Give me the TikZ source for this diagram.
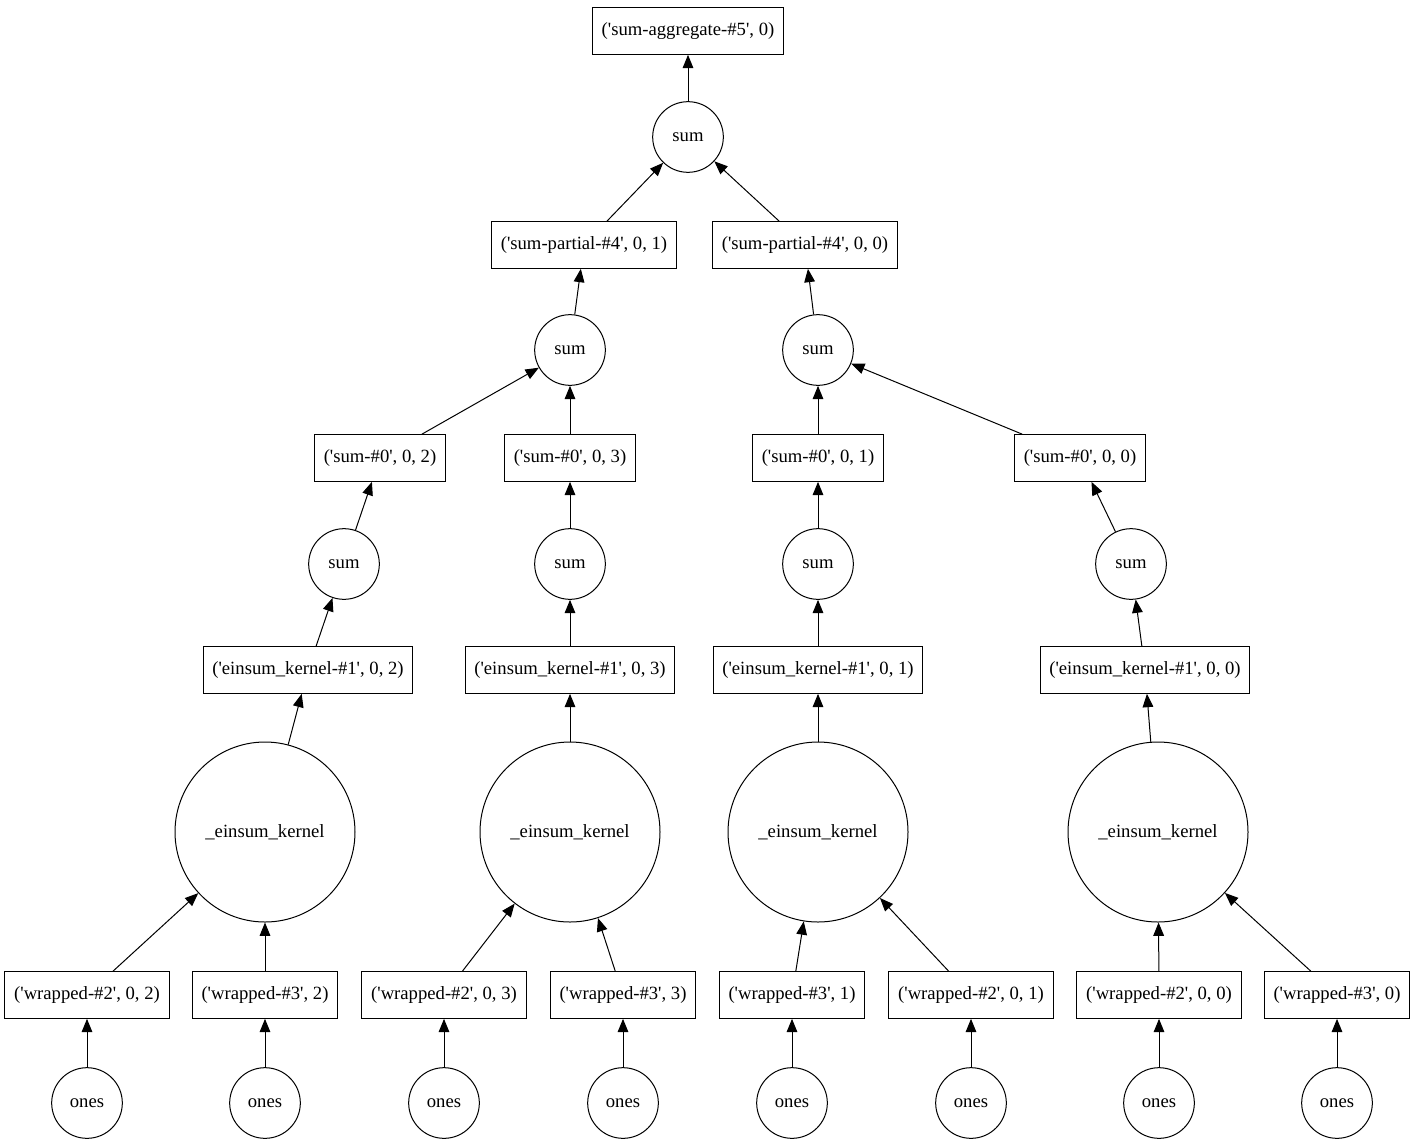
\documentclass[tikz,border=0pt]{standalone}
\usepackage{fontspec}
\setmainfont{Liberation Serif}
\usetikzlibrary{arrows.meta}

\newcommand{\q}{\textquotesingle}

\begin{document}
\begin{tikzpicture}[x=0.75pt, y=-0.75pt, line width=0.75pt,
  box/.style={draw, rectangle, minimum height=35pt, inner xsep=7pt, font=\fontsize{14}{16}\selectfont},
  op/.style={draw, circle, minimum size=53pt, inner sep=0pt, font=\fontsize{14}{16}\selectfont},
  bigop/.style={op, minimum size=135pt},
  edge/.style={-{Triangle[length=10pt, width=8pt]}}]

\useasboundingbox (0,-2) rectangle (1416,1140);

% top of the tree
\node[box] (agg) at (688,29) {(\q sum-aggregate-\#5\q, 0)};
\node[op] (s) at (688,135) {sum};
\node[box] (p1) at (584,243) {(\q sum-partial-\#4\q, 0, 1)};
\node[box] (p0) at (805,243) {(\q sum-partial-\#4\q, 0, 0)};
\node[op] (s1) at (570,348) {sum};
\node[op] (s0) at (818,348) {sum};

% one column per chunk
\foreach \c/\x/\xs/\xk/\xe in {2/380/344/308/265, 3/570/570/570/570, 1/818/818/818/818, 0/1080/1131/1145/1158} {
  \node[box] (c\c) at (\x,456) {(\q sum-\#0\q, 0, \c)};
  \node[op] (sc\c) at (\xs,562) {sum};
  \node[box] (k\c) at (\xk,668) {(\q einsum\_kernel-\#1\q, 0, \c)};
  \node[bigop] (e\c) at (\xe,830) {\_einsum\_kernel};
  \draw[edge] (sc\c) -- (c\c);
  \draw[edge] (k\c) -- (sc\c);
  \draw[edge] (e\c) -- (k\c);
}

% inputs
\foreach \n/\x/\e/\t in {a/87/2/{(\q wrapped-\#2\q, 0, 2)}, b/265/2/{(\q wrapped-\#3\q, 2)},
    c/444/3/{(\q wrapped-\#2\q, 0, 3)}, d/623/3/{(\q wrapped-\#3\q, 3)},
    e/792/1/{(\q wrapped-\#3\q, 1)}, f/971/1/{(\q wrapped-\#2\q, 0, 1)},
    g/1159/0/{(\q wrapped-\#2\q, 0, 0)}, h/1337/0/{(\q wrapped-\#3\q, 0)}} {
  \node[box] (w\n) at (\x,993) {\t};
  \node[op] (o\n) at (\x,1101) {ones};
  \draw[edge] (o\n) -- (w\n);
  \draw[edge] (w\n) -- (e\e);
}

\draw[edge] (s) -- (agg);
\draw[edge] (p1) -- (s);
\draw[edge] (p0) -- (s);
\draw[edge] (s1) -- (p1);
\draw[edge] (s0) -- (p0);
\draw[edge] (c2) -- (s1);
\draw[edge] (c3) -- (s1);
\draw[edge] (c1) -- (s0);
\draw[edge] (c0) -- (s0);

\end{tikzpicture}
\end{document}
